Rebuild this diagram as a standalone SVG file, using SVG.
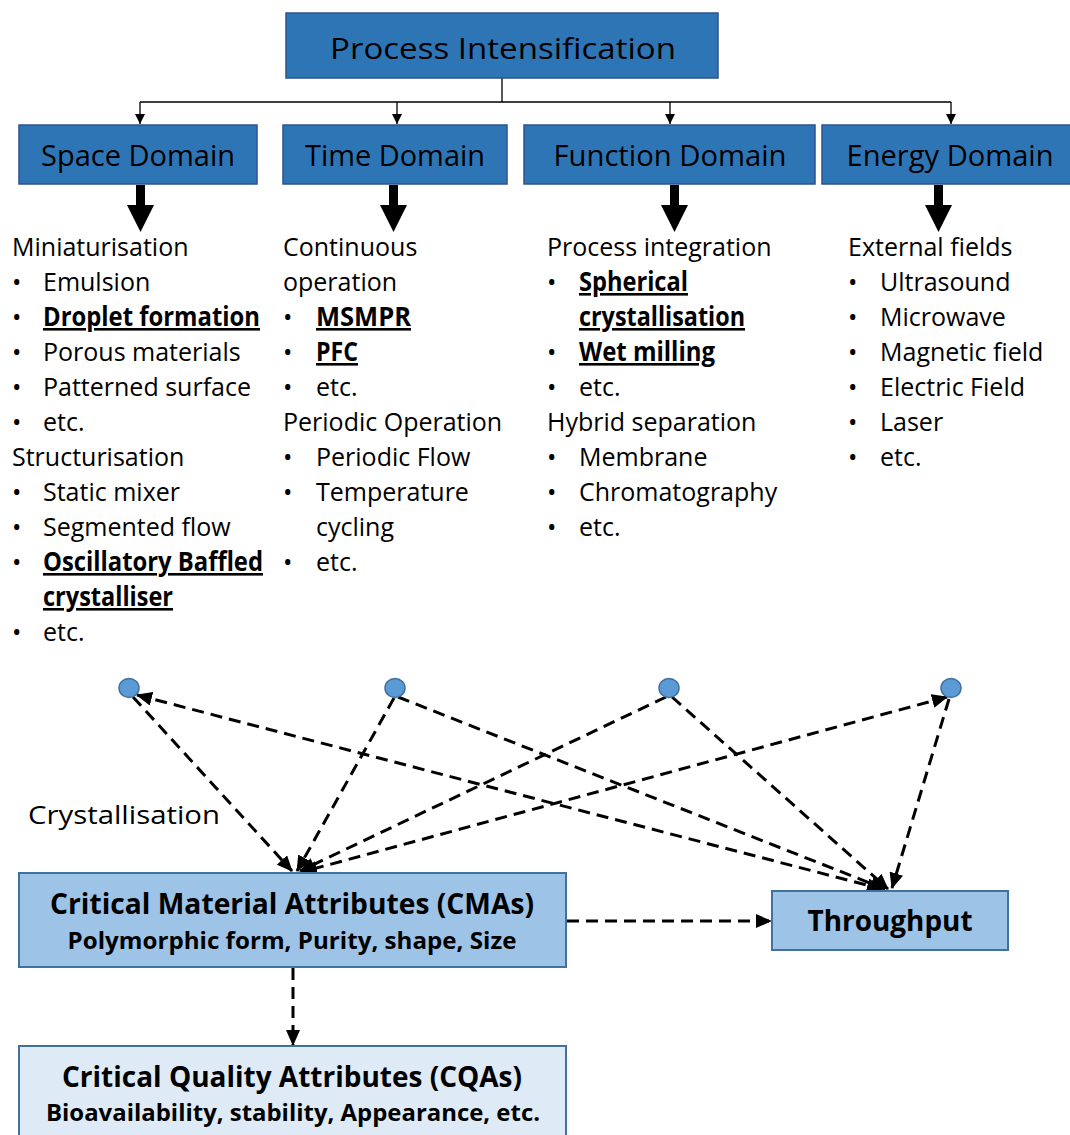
<svg xmlns="http://www.w3.org/2000/svg" width="1070" height="1135" viewBox="0 0 1070 1135">
<style>
.dom{fill:#2E75B6;stroke:#2F528F;stroke-width:1.5}
.dt{font-family:"Open Sans","Liberation Sans",sans-serif;font-size:30px;fill:#000;text-anchor:middle}
.b{font-family:"Open Sans","Liberation Sans",sans-serif;font-size:25px;fill:#000}
.bb{font-family:"Open Sans","Liberation Sans",sans-serif;font-size:26px;fill:#000;font-weight:bold;text-decoration:underline}
.dash{fill:none;stroke:#000;stroke-width:3;stroke-dasharray:12 7}
.thin{fill:none;stroke:#000;stroke-width:1.3}
.dot{fill:#5B9BD5;stroke:#41719C;stroke-width:1.5}
.bx{stroke:#41719C;stroke-width:2}
.bt{font-family:"Open Sans","Liberation Sans",sans-serif;font-weight:bold;fill:#000;text-anchor:middle}
</style>
<defs>
<marker id="ah" markerUnits="userSpaceOnUse" markerWidth="16" markerHeight="14" refX="15" refY="7" orient="auto-start-reverse">
<path d="M0,0 L16,7 L0,14 Z" fill="#000"/>
</marker>
<marker id="sm" markerUnits="userSpaceOnUse" markerWidth="10" markerHeight="10" refX="10" refY="5" orient="auto">
<path d="M0,0 L10,5 L0,10 Z" fill="#000"/>
</marker>
</defs>

<g id="connectors">
<path class="thin" d="M502,78 V102 M140,102 H951"/>
<path class="thin" d="M140,102 V124" marker-end="url(#sm)"/>
<path class="thin" d="M397,102 V124" marker-end="url(#sm)"/>
<path class="thin" d="M670,102 V124" marker-end="url(#sm)"/>
<path class="thin" d="M951,102 V124" marker-end="url(#sm)"/>
<g fill="#000">
<path d="M136,185 H145 V205 H154 L140.5,232 L127,205 H136 Z"/>
<path d="M389,185 H398 V205 H407 L393.5,232 L380,205 H389 Z"/>
<path d="M670,185 H679 V205 H688 L674.5,232 L661,205 H670 Z"/>
<path d="M934,185 H943 V205 H952 L938.5,232 L925,205 H934 Z"/>
</g>
<line class="dash" x1="133" y1="697" x2="292" y2="871" marker-end="url(#ah)"/>
<line class="dash" x1="137" y1="695" x2="882" y2="889" marker-start="url(#ah)" marker-end="url(#ah)"/>
<line class="dash" x1="394" y1="698" x2="297" y2="871" marker-end="url(#ah)"/>
<line class="dash" x1="398" y1="697" x2="885" y2="889" marker-end="url(#ah)"/>
<line class="dash" x1="666" y1="697" x2="300" y2="871" marker-end="url(#ah)"/>
<line class="dash" x1="672" y1="697" x2="888" y2="889" marker-end="url(#ah)"/>
<line class="dash" x1="947" y1="697" x2="302" y2="872" marker-start="url(#ah)" marker-end="url(#ah)"/>
<line class="dash" x1="949" y1="699" x2="892" y2="888" marker-end="url(#ah)"/>
<line class="dash" x1="567" y1="921" x2="771" y2="921" marker-end="url(#ah)"/>
<line class="dash" x1="293" y1="968" x2="293" y2="1045" marker-end="url(#ah)"/>
</g>

<g id="process-intensification">
<rect class="dom" x="286" y="13" width="432" height="65"/>
<text class="dt" x="503" y="59" font-size="36" textLength="346" lengthAdjust="spacingAndGlyphs">Process Intensification</text>
</g>
<g id="space-domain">
<rect class="dom" x="19" y="125" width="238" height="59"/>
<text class="dt" x="138" y="166" textLength="194" lengthAdjust="spacingAndGlyphs">Space Domain</text>
</g>
<g id="time-domain">
<rect class="dom" x="283" y="125" width="224" height="59"/>
<text class="dt" x="395" y="166" textLength="180" lengthAdjust="spacingAndGlyphs">Time Domain</text>
</g>
<g id="function-domain">
<rect class="dom" x="524" y="125" width="291" height="59"/>
<text class="dt" x="670" y="166" textLength="233" lengthAdjust="spacingAndGlyphs">Function Domain</text>
</g>
<g id="energy-domain">
<rect class="dom" x="822" y="125" width="250" height="59"/>
<text class="dt" x="950" y="166" textLength="207" lengthAdjust="spacingAndGlyphs">Energy Domain</text>
</g>

<g id="space-list">
<text class="b" x="12" y="256">Miniaturisation</text>
<text class="b" x="12" y="291">•</text><text class="b" x="43" y="291">Emulsion</text>
<text class="b" x="12" y="326">•</text><text class="bb" x="43" y="326" textLength="217" lengthAdjust="spacingAndGlyphs">Droplet formation</text>
<text class="b" x="12" y="361">•</text><text class="b" x="43" y="361">Porous materials</text>
<text class="b" x="12" y="396">•</text><text class="b" x="43" y="396">Patterned surface</text>
<text class="b" x="12" y="431">•</text><text class="b" x="43" y="431">etc.</text>
<text class="b" x="12" y="466">Structurisation</text>
<text class="b" x="12" y="501">•</text><text class="b" x="43" y="501">Static mixer</text>
<text class="b" x="12" y="536">•</text><text class="b" x="43" y="536">Segmented flow</text>
<text class="b" x="12" y="571">•</text><text class="bb" x="43" y="571" textLength="220" lengthAdjust="spacingAndGlyphs">Oscillatory Baffled</text>
<text class="bb" x="43" y="606" textLength="130" lengthAdjust="spacingAndGlyphs">crystalliser</text>
<text class="b" x="12" y="641">•</text><text class="b" x="43" y="641">etc.</text>
</g>
<g id="time-list">
<text class="b" x="283" y="256">Continuous</text>
<text class="b" x="283" y="291">operation</text>
<text class="b" x="283" y="326">•</text><text class="bb" x="316" y="326" textLength="95" lengthAdjust="spacingAndGlyphs">MSMPR</text>
<text class="b" x="283" y="361">•</text><text class="bb" x="316" y="361" textLength="42" lengthAdjust="spacingAndGlyphs">PFC</text>
<text class="b" x="283" y="396">•</text><text class="b" x="316" y="396">etc.</text>
<text class="b" x="283" y="431">Periodic Operation</text>
<text class="b" x="283" y="466">•</text><text class="b" x="316" y="466">Periodic Flow</text>
<text class="b" x="283" y="501">•</text><text class="b" x="316" y="501">Temperature</text>
<text class="b" x="316" y="536">cycling</text>
<text class="b" x="283" y="571">•</text><text class="b" x="316" y="571">etc.</text>
</g>
<g id="function-list">
<text class="b" x="547" y="256">Process integration</text>
<text class="b" x="547" y="291">•</text><text class="bb" x="579" y="291" textLength="109" lengthAdjust="spacingAndGlyphs">Spherical</text>
<text class="bb" x="579" y="326" textLength="166" lengthAdjust="spacingAndGlyphs">crystallisation</text>
<text class="b" x="547" y="361">•</text><text class="bb" x="579" y="361" textLength="136" lengthAdjust="spacingAndGlyphs">Wet milling</text>
<text class="b" x="547" y="396">•</text><text class="b" x="579" y="396">etc.</text>
<text class="b" x="547" y="431">Hybrid separation</text>
<text class="b" x="547" y="466">•</text><text class="b" x="579" y="466">Membrane</text>
<text class="b" x="547" y="501">•</text><text class="b" x="579" y="501">Chromatography</text>
<text class="b" x="547" y="536">•</text><text class="b" x="579" y="536">etc.</text>
</g>
<g id="energy-list">
<text class="b" x="848" y="256">External fields</text>
<text class="b" x="848" y="291">•</text><text class="b" x="880" y="291">Ultrasound</text>
<text class="b" x="848" y="326">•</text><text class="b" x="880" y="326">Microwave</text>
<text class="b" x="848" y="361">•</text><text class="b" x="880" y="361">Magnetic field</text>
<text class="b" x="848" y="396">•</text><text class="b" x="880" y="396">Electric Field</text>
<text class="b" x="848" y="431">•</text><text class="b" x="880" y="431">Laser</text>
<text class="b" x="848" y="466">•</text><text class="b" x="880" y="466">etc.</text>
</g>

<g id="dot-space"><ellipse class="dot" cx="129" cy="688" rx="10" ry="9.5"/></g>
<g id="dot-time"><ellipse class="dot" cx="395" cy="688" rx="10" ry="9.5"/></g>
<g id="dot-function"><ellipse class="dot" cx="669" cy="688" rx="10" ry="9.5"/></g>
<g id="dot-energy"><ellipse class="dot" cx="951" cy="688" rx="10" ry="9.5"/></g>

<g id="crystallisation-label">
<text class="b" x="28" y="824" font-size="28" textLength="192" lengthAdjust="spacingAndGlyphs">Crystallisation</text>
</g>

<g id="cmas">
<rect class="bx" x="19" y="873" width="547" height="94" fill="#9DC3E6"/>
<text class="bt" x="292" y="914" font-size="29" textLength="484" lengthAdjust="spacingAndGlyphs">Critical Material Attributes (CMAs)</text>
<text class="bt" x="292" y="949" font-size="23" textLength="449" lengthAdjust="spacingAndGlyphs">Polymorphic form, Purity, shape, Size</text>
</g>
<g id="throughput">
<rect class="bx" x="772" y="891" width="236" height="59" fill="#9DC3E6"/>
<text class="bt" x="890" y="931" font-size="29" textLength="165" lengthAdjust="spacingAndGlyphs">Throughput</text>
</g>
<g id="cqas">
<rect class="bx" x="19" y="1046" width="547" height="100" fill="#DEEBF7"/>
<text class="bt" x="292" y="1087" font-size="29" textLength="460" lengthAdjust="spacingAndGlyphs">Critical Quality Attributes (CQAs)</text>
<text class="bt" x="293" y="1121" font-size="23" textLength="494" lengthAdjust="spacingAndGlyphs">Bioavailability, stability, Appearance, etc.</text>
</g>
</svg>
